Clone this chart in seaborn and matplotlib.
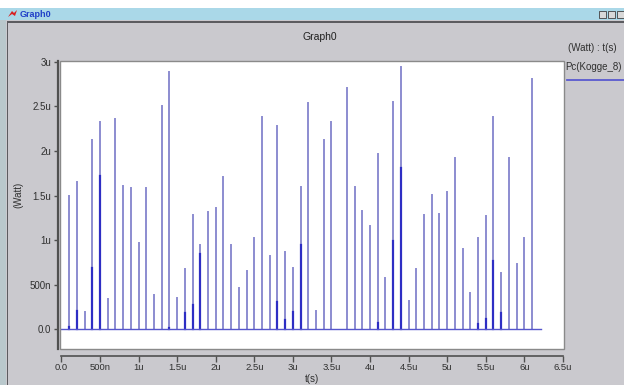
import matplotlib
matplotlib.use("Agg")
import matplotlib.pyplot as plt
from matplotlib.patches import Rectangle, Polygon
from matplotlib.lines import Line2D
import seaborn as sns
import pandas as pd

# ---- data (time in microseconds, power in microwatts) ----
spike_times = [0.1, 0.2, 0.3, 0.4, 0.5, 0.6, 0.7, 0.8, 0.9, 1.0,
               1.1, 1.2, 1.3, 1.4, 1.5, 1.6, 1.7, 1.8, 1.9, 2.0,
               2.1, 2.2, 2.3, 2.4, 2.5, 2.6, 2.7, 2.8, 2.9, 3.0,
               3.1, 3.2, 3.3, 3.4, 3.5, 3.7, 3.8, 3.9, 4.0,
               4.1, 4.2, 4.3, 4.4, 4.5, 4.6, 4.7, 4.8, 4.9, 5.0,
               5.1, 5.2, 5.3, 5.4, 5.5, 5.6, 5.7, 5.8, 5.9, 6.0, 6.1]
spike_peaks = [1.49, 1.65, 0.19, 2.12, 2.32, 0.34, 2.36, 1.61, 1.58, 0.97,
               1.58, 0.38, 2.50, 2.89, 0.35, 0.68, 1.28, 0.95, 1.32, 1.36,
               1.71, 0.95, 0.46, 0.65, 1.02, 2.38, 0.82, 2.28, 0.87, 0.69,
               1.60, 2.54, 0.21, 2.12, 2.32, 2.70, 1.60, 1.33, 1.16,
               1.97, 0.57, 2.55, 2.94, 0.32, 0.68, 1.28, 1.51, 1.29, 1.54,
               1.92, 0.90, 0.41, 1.02, 1.27, 2.38, 0.63, 1.92, 0.73, 1.02, 2.81]
dark_times = [0.1, 0.2, 0.4, 0.5, 1.4, 1.6, 1.7, 1.8, 2.8, 2.9, 3.0, 3.1,
              4.1, 4.3, 4.4, 5.4, 5.5, 5.6, 5.7]
dark_peaks = [0.03, 0.20, 0.69, 1.72, 0.02, 0.18, 0.27, 0.84, 0.31, 0.10, 0.19, 0.95,
              0.07, 0.99, 1.81, 0.06, 0.12, 0.77, 0.18]
baseline_t = [0.0, 6.22]
baseline_p = [0.0, 0.0]

x_ticks = [0.0, 0.5, 1.0, 1.5, 2.0, 2.5, 3.0, 3.5, 4.0, 4.5, 5.0, 5.5, 6.0, 6.5]
x_labels = ["0.0", "500n", "1u", "1.5u", "2u", "2.5u", "3u", "3.5u", "4u",
            "4.5u", "5u", "5.5u", "6u", "6.5u"]
y_ticks = [0.0, 0.5, 1.0, 1.5, 2.0, 2.5, 3.0]
y_labels = ["0.0", "500n", "1u", "1.5u", "2u", "2.5u", "3u"]

plt.rcParams['font.family'] = ['Liberation Sans', 'DejaVu Sans']

W, H = 624, 385
fig = plt.figure(figsize=(W / 100, H / 100), dpi=100)
fig.patch.set_facecolor('#cac9ce')

def fx(px):
    return px / W

def fy(py):
    return 1 - py / H

# window chrome
fig.patches.append(Rectangle((0, fy(8)), 1, 8 / H, transform=fig.transFigure,
                             facecolor='white', edgecolor='none'))
fig.patches.append(Rectangle((0, fy(20)), 1, 12 / H, transform=fig.transFigure,
                             facecolor='#aad8e8', edgecolor='none'))
fig.patches.append(Rectangle((fx(7), fy(23)), 1, 2.5 / H, transform=fig.transFigure,
                             facecolor='#5c5c60', edgecolor='none'))
fig.patches.append(Rectangle((fx(6.5), 0), 1.5 / W, fy(21), transform=fig.transFigure,
                             facecolor='#5c5c60', edgecolor='none'))
fig.patches.append(Rectangle((0, 0), 6 / W, fy(20), transform=fig.transFigure,
                             facecolor='#b9c8cc', edgecolor='none'))
fig.patches.append(Polygon([(fx(8), fy(17)), (fx(12), fy(11)), (fx(14), fy(13)),
                            (fx(17), fy(10)), (fx(15), fy(16)), (fx(12), fy(14))],
                           closed=True, transform=fig.transFigure,
                           facecolor='#d82020', edgecolor='none'))
fig.text(fx(20), fy(14.5), "Graph0", color='#1f3fc8', fontsize=6.5,
         fontweight='bold', ha='left', va='center')
for bx in (599, 608, 617):
    fig.patches.append(Rectangle((fx(bx), fy(18)), 7 / W, 7 / H, transform=fig.transFigure,
                                 facecolor='#d8d8d8', edgecolor='#404040', linewidth=0.6))

# plot title
fig.text(fx(320), fy(37), "Graph0", color='#202020', fontsize=7.5, ha='center', va='center')

# axes
ax = fig.add_axes([fx(60), fy(349), (564 - 60) / W, (349 - 61) / H])
ax.set_facecolor('white')

rows = []
for i, (t, p) in enumerate(zip(spike_times, spike_peaks)):
    rows.append({'t': t, 'p': 0.0, 'id': i})
    rows.append({'t': t, 'p': p, 'id': i})
df = pd.DataFrame(rows)
drows = []
for i, (t, p) in enumerate(zip(dark_times, dark_peaks)):
    drows.append({'t': t, 'p': 0.0, 'id': i})
    drows.append({'t': t, 'p': p, 'id': i})
ddf = pd.DataFrame(drows)
bdf = pd.DataFrame({'t': baseline_t, 'p': baseline_p})

sns.lineplot(data=df, x='t', y='p', units='id', estimator=None, color='#8c8cd0',
             linewidth=1.4, ax=ax, legend=False)
sns.lineplot(data=ddf, x='t', y='p', units='id', estimator=None, color='#2e2ec4',
             linewidth=1.6, ax=ax, legend=False)
sns.lineplot(data=bdf, x='t', y='p', color='#5656cc', linewidth=1.0, ax=ax, legend=False)

ax.set_xlim(-0.018, 6.515)
ax.set_ylim(-0.221, 3.008)
ax.set_xticks(x_ticks)
ax.set_xticklabels(x_labels)
ax.set_yticks(y_ticks)
ax.set_yticklabels(y_labels)
ax.set_xlabel("")
ax.set_ylabel("")
ax.grid(False)

for s in ('top', 'right'):
    ax.spines[s].set_visible(False)
ax.spines['left'].set_position(('outward', 1.5))
ax.spines['left'].set_color('#505050')
ax.spines['left'].set_linewidth(1.6)
ax.spines['bottom'].set_position(('outward', 5))
ax.spines['bottom'].set_color('#505050')
ax.spines['bottom'].set_linewidth(1.2)
ax.spines['bottom'].set_bounds(0, 6.5)
ax.tick_params(axis='x', direction='out', length=4.5, width=1, color='#505050',
               labelsize=6.8, labelcolor='#303030', pad=0.5)
ax.tick_params(axis='y', direction='out', length=3, width=1, color='#505050',
               labelsize=7, labelcolor='#303030', pad=2)
ax.add_patch(Rectangle((0, 0), 1, 1, transform=ax.transAxes, fill=False,
                       edgecolor='#8a8a8a', linewidth=1.0, clip_on=False, zorder=5))

fig.text(fx(312), fy(379.5), "t(s)", color='#303030', fontsize=7, ha='center', va='center')
fig.text(fx(18), fy(195), "(Watt)", color='#303030', fontsize=7, ha='center',
         va='center', rotation=90)

# legend area
fig.text(fx(568), fy(48), "(Watt) : t(s)", color='#303030', fontsize=7, ha='left', va='center')
fig.text(fx(565), fy(67), "Pc(Kogge_8)", color='#303030', fontsize=7, ha='left', va='center')
fig.lines.append(Line2D([fx(567), fx(624)], [fy(80), fy(80)], transform=fig.transFigure,
                        color='#5a5ad0', linewidth=1.3))

fig.savefig("out.png", dpi=100, facecolor=fig.get_facecolor())
